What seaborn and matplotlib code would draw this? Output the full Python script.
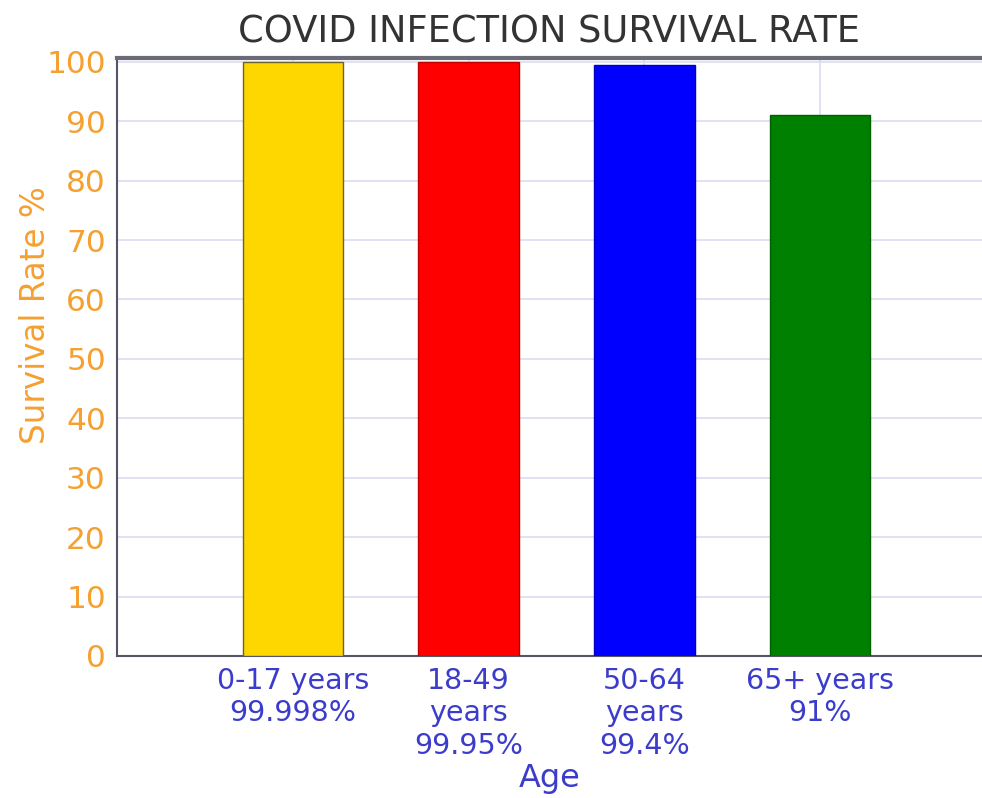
import pandas as pd
import seaborn as sns
import matplotlib.pyplot as plt

age_groups = ["0-17 years\n99.998%", "18-49\nyears\n99.95%", "50-64\nyears\n99.4%", "65+ years\n91%"]
survival = [99.998, 99.95, 99.4, 91]
bar_colors = ["#FFD700", "#FF0000", "#0000FF", "#008000"]
edge_colors = ["#6b6230", "#c00000", "#0000c0", "#006000"]
y_ticks = [0, 10, 20, 30, 40, 50, 60, 70, 80, 90, 100]

df = pd.DataFrame({"Age": age_groups, "Survival": survival})

orange = "#F5A030"
blue = "#3C3CCC"

sns.set_style("white")
plt.rcParams['font.family'] = ['DejaVu Sans']

fig = plt.figure(figsize=(9.82, 7.98), dpi=100)
ax = fig.add_axes([0.1191, 0.178, 0.8809, 0.749])

sns.barplot(x="Age", y="Survival", hue="Age", data=df, palette=bar_colors,
            saturation=1, legend=False, width=0.57, ax=ax, zorder=3)
for patch, ec in zip(ax.patches, edge_colors):
    patch.set_edgecolor(ec)
    patch.set_linewidth(1.0)

ax.set_xlim(-1, 3.92)
ax.set_ylim(0, 100.6)
ax.set_yticks(y_ticks)
ax.grid(True, color="#DCDCF2", linewidth=1.2, zorder=0)
ax.set_axisbelow(True)

ax.tick_params(axis="y", length=0, labelsize=22.5, labelcolor=orange, pad=8)
ax.tick_params(axis="x", length=0, labelsize=20.5, labelcolor=blue, pad=8)
for lbl in ax.get_xticklabels():
    lbl.set_linespacing(1.2)

for s in ["left", "bottom"]:
    ax.spines[s].set_color("#555566")
    ax.spines[s].set_linewidth(1.5)
ax.spines["top"].set_color("#6a6a78")
ax.spines["top"].set_linewidth(3)
ax.spines["right"].set_visible(False)

ax.set_title("COVID INFECTION SURVIVAL RATE", fontsize=26.5, color="#333333", pad=11)
ax.set_ylabel("Survival Rate %", fontsize=23.5, color=orange)
ax.yaxis.set_label_coords(-0.075, 0.57)
ax.set_xlabel("Age", fontsize=23, color=blue, labelpad=2)

plt.savefig("out.png", dpi=100)
